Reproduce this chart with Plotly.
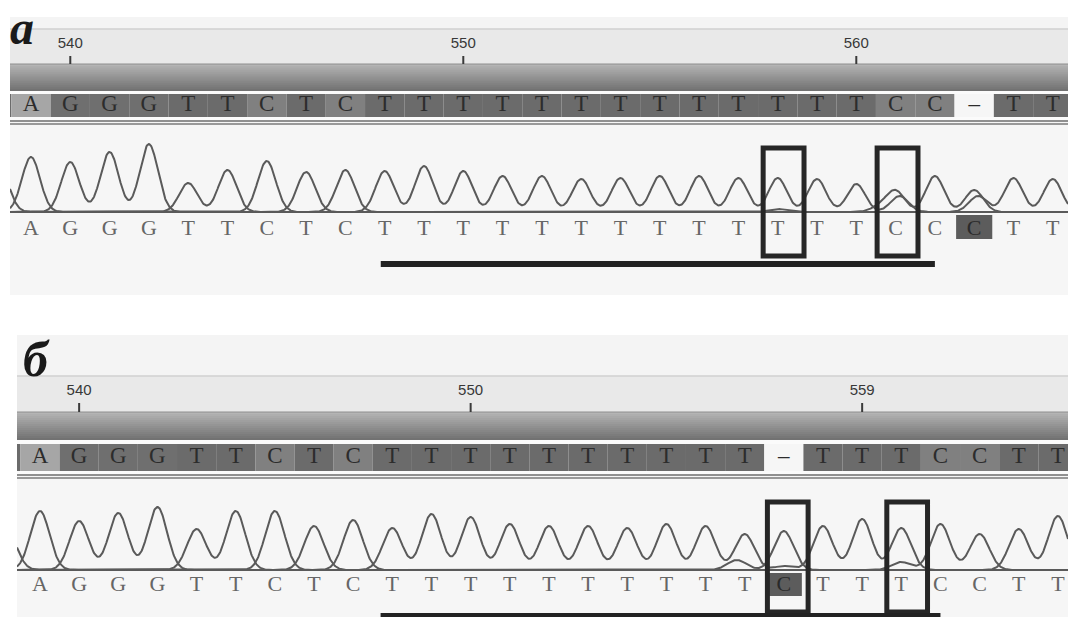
import numpy as np
import plotly.graph_objects as go

# ---------------- data ----------------
PANEL_LABELS = ["а", "б"]

# panel а
RULER_POS_A = [1, 11, 21]
RULER_TXT_A = ["540", "550", "560"]
REF_START = -1
REF_SEQ_A = "T" + "AGGGTTCTC" + "TTTTTTTTTTTTT" + "CC-TT"
CALLS_A = "AGGGTTCTC" + "TTTTTTTTTTTTT" + "CCCTT"
PEAK_H_A = [55, 50, 60, 68, 29, 42, 51, 40, 42, 41,
            46, 41, 36, 36, 33, 34, 36, 36, 34, 34,
            33, 28, 21, 36, 22, 34, 33]
EXTRA_PEAKS_A = [(-0.8, "C", 45), (19.0, "C", 3), (21.6, "C", 5),
                 (22.1, "T", 16), (24.1, "T", 16)]
HILITE_CALL_A = [24]
BOX_CENTERS_A = [19.15, 22.05]
UNDERLINE_A = [8.9, 23.0]

# panel б
RULER_POS_B = [1, 11, 21]
RULER_TXT_B = ["540", "550", "559"]
REF_SEQ_B = "T" + "AGGGTTCTC" + "TTTTTTTTTT" + "-TTTCCTT"
CALLS_B = "AGGGTTCTC" + "TTTTTTTTTT" + "CTTTCCTT"
PEAK_H_B = [59, 49, 57, 63, 41, 59, 59, 44, 50, 42,
            56, 53, 46, 44, 44, 42, 46, 44, 36, 39,
            44, 51, 42, 46, 36, 41, 54]
EXTRA_PEAKS_B = [(-0.85, "C", 40), (17.8, "C", 10), (19.0, "T", 4),
                 (22.0, "C", 8)]
HILITE_CALL_B = [19]
BOX_CENTERS_B = [19.1, 22.15]
UNDERLINE_B = [8.7, 23.0]

# ---------------- styling / geometry ----------------
W, H = 1068, 617
CELL_COL = {"A": "#a6a6a6", "G": "#6f6f6f", "T": "#6b6b6b", "C": "#808080", "-": "#f6f6f6"}
TRACE_COL = "#5a5a5a"
LETTER_FONT = "Liberation Serif, Times New Roman, serif"

GEO = [
    dict(xa="x", ya="y", xr=[-0.534, 26.387], xdom=[10 / W, 1],
         ydom=[(H - 295) / H, (H - 17) / H], yr=[-83, 195],
         strip=[195, 183], ruler=[183, 148], tick_lab=168, tick=[148, 156],
         grad=[148, 121], row=[118, 95], row_y=106.5, dbl=[91, 88],
         call_y=-17, hil=[-3, -27], box=[64, -44], ul=[-49, -55], sigma=0.23),
    dict(xa="x2", ya="y2", xr=[-0.587, 26.258], xdom=[17 / W, 1],
         ydom=[0, (H - 335) / H], yr=[-47, 235],
         strip=[235, 194], ruler=[194, 158], tick_lab=179, tick=[158, 167],
         grad=[158, 130], row=[126, 99], row_y=112.5, dbl=[95, 92],
         call_y=-15, hil=[-3, -26], box=[68, -42], ul=[-43, -50], sigma=0.245),
]

PANELS = [
    dict(ruler_pos=RULER_POS_A, ruler_txt=RULER_TXT_A, ref=REF_SEQ_A, calls=CALLS_A,
         heights=PEAK_H_A, extras=EXTRA_PEAKS_A, hil=HILITE_CALL_A,
         boxes=BOX_CENTERS_A, ul=UNDERLINE_A),
    dict(ruler_pos=RULER_POS_B, ruler_txt=RULER_TXT_B, ref=REF_SEQ_B, calls=CALLS_B,
         heights=PEAK_H_B, extras=EXTRA_PEAKS_B, hil=HILITE_CALL_B,
         boxes=BOX_CENTERS_B, ul=UNDERLINE_B),
]

fig = go.Figure()
shapes = []


def rect(xref, yref, x0, x1, y0, y1, fill, layer="below", lw=0, lc=None):
    shapes.append(dict(type="rect", xref=xref, yref=yref, x0=x0, x1=x1, y0=y0, y1=y1,
                       fillcolor=fill, layer=layer,
                       line=dict(width=lw, color=lc or fill)))


def hline(xref, yref, y, color, width):
    shapes.append(dict(type="line", xref=xref, yref=yref, x0=0, x1=1, y0=y, y1=y,
                       layer="below", line=dict(color=color, width=width)))


for g, p in zip(GEO, PANELS):
    xa, ya = g["xa"], g["ya"]
    xd = xa + " domain"
    # header strip and ruler background
    rect(xd, ya, 0, 1, g["strip"][1], g["strip"][0], "#f4f4f4")
    rect(xd, ya, 0, 1, g["ruler"][1], g["ruler"][0], "#e9e9e9")
    hline(xd, ya, g["ruler"][0], "#d0d0d0", 1.5)
    # gradient bar (stacked overlapping bands, light on top -> dark at bottom)
    n = 14
    gtop, gbot = g["grad"]
    for k in range(n):
        v = int(180 - (180 - 114) * k / (n - 1))
        rect(xd, ya, 0, 1, gbot, gtop - (gtop - gbot) * k / n, f"rgb({v},{v},{v})")
    hline(xd, ya, gtop, "#8e8e8e", 1)
    # white gap + row area
    rect(xd, ya, 0, 1, g["dbl"][0] + 1, gbot, "#fbfbfb")
    # sequence row cells
    for k, b in enumerate(p["ref"]):
        i = REF_START + k
        rect(xa, ya, i - 0.5, i + 0.5, g["row"][1], g["row"][0], CELL_COL[b])
    # double line
    hline(xd, ya, g["dbl"][0], "#6e6e6e", 1.6)
    hline(xd, ya, g["dbl"][1], "#7a7a7a", 1.6)
    # baseline
    hline(xd, ya, 0, "#6a6a6a", 2)
    # ruler ticks
    for rp in p["ruler_pos"]:
        shapes.append(dict(type="line", xref=xa, yref=ya, x0=rp, x1=rp,
                           y0=g["tick"][0], y1=g["tick"][1], layer="above",
                           line=dict(color="#3a3a3a", width=2)))
    # highlighted base-call cells
    for hi in p["hil"]:
        rect(xa, ya, hi - 0.46, hi + 0.46, g["hil"][1], g["hil"][0], "#5c5c5c")
    # boxes
    for bc in p["boxes"]:
        shapes.append(dict(type="rect", xref=xa, yref=ya, x0=bc - 0.52, x1=bc + 0.52,
                           y0=g["box"][1], y1=g["box"][0], layer="above",
                           line=dict(color="#262626", width=5)))
    # underline bar
    rect(xa, ya, p["ul"][0], p["ul"][1], g["ul"][1], g["ul"][0], "#222222", layer="above")

    # chromatogram traces
    xs = np.linspace(g["xr"][0], g["xr"][1], 1800)
    peaks = [(i, b, h) for i, (b, h) in enumerate(zip(p["calls"], p["heights"]))]
    peaks += list(p["extras"])
    s = g["sigma"]
    for base in "ACGT":
        ys = np.zeros_like(xs)
        for pos, b, h in peaks:
            if b == base:
                ys += h * np.exp(-((xs - pos) ** 2) / (2 * s * s))
        fig.add_trace(go.Scatter(x=xs, y=ys, mode="lines", xaxis=xa, yaxis=ya,
                                 line=dict(color=TRACE_COL, width=2),
                                 hoverinfo="skip", showlegend=False))

    # ruler labels
    fig.add_trace(go.Scatter(x=p["ruler_pos"], y=[g["tick_lab"]] * len(p["ruler_pos"]),
                             mode="text", text=p["ruler_txt"], xaxis=xa, yaxis=ya,
                             textfont=dict(family="Liberation Sans, Arial", size=15, color="#383838"),
                             hoverinfo="skip", showlegend=False))
    # reference row letters (visible positions only)
    ref_x = [REF_START + k for k in range(len(p["ref"])) if REF_START + k >= 0]
    ref_t = ["–" if p["ref"][i - REF_START] == "-" else p["ref"][i - REF_START] for i in ref_x]
    fig.add_trace(go.Scatter(x=ref_x, y=[g["row_y"]] * len(ref_x), mode="text", text=ref_t,
                             xaxis=xa, yaxis=ya, cliponaxis=True,
                             textfont=dict(family=LETTER_FONT, size=23, color="#2c2c2c"),
                             hoverinfo="skip", showlegend=False))
    # base-call letters
    call_x = list(range(len(p["calls"])))
    call_c = ["#2a2a2a" if i in p["hil"] else "#666666" for i in call_x]
    fig.add_trace(go.Scatter(x=call_x, y=[g["call_y"]] * len(call_x), mode="text",
                             text=list(p["calls"]), xaxis=xa, yaxis=ya, cliponaxis=True,
                             textfont=dict(family=LETTER_FONT, size=22, color=call_c),
                             hoverinfo="skip", showlegend=False))

ax_common = dict(visible=False, showgrid=False, zeroline=False, fixedrange=True)
fig.update_layout(
    width=W, height=H, margin=dict(l=0, r=0, t=0, b=0),
    paper_bgcolor="#ffffff", plot_bgcolor="#f6f6f6", showlegend=False,
    xaxis=dict(domain=GEO[0]["xdom"], range=GEO[0]["xr"], anchor="y", **ax_common),
    yaxis=dict(domain=GEO[0]["ydom"], range=GEO[0]["yr"], anchor="x", **ax_common),
    xaxis2=dict(domain=GEO[1]["xdom"], range=GEO[1]["xr"], anchor="y2", **ax_common),
    yaxis2=dict(domain=GEO[1]["ydom"], range=GEO[1]["yr"], anchor="x2", **ax_common),
    shapes=shapes,
    annotations=[
        dict(text="<b><i>" + PANEL_LABELS[0] + "</i></b>", xref="paper", yref="paper",
             x=9 / W, y=1, xanchor="left", yanchor="top", showarrow=False,
             borderpad=0,
             font=dict(family="Liberation Serif, Times New Roman", size=48, color="#1a1a1a")),
        dict(text="<b><i>" + PANEL_LABELS[1] + "</i></b>", xref="paper", yref="paper",
             x=21 / W, y=(H - 359) / H, xanchor="left", yanchor="middle", showarrow=False,
             font=dict(family="Liberation Serif, Times New Roman", size=50, color="#1a1a1a")),
    ],
)

fig.write_html("out.html", post_script="document.body.style.margin='0px';",
               config={"displayModeBar": False})
